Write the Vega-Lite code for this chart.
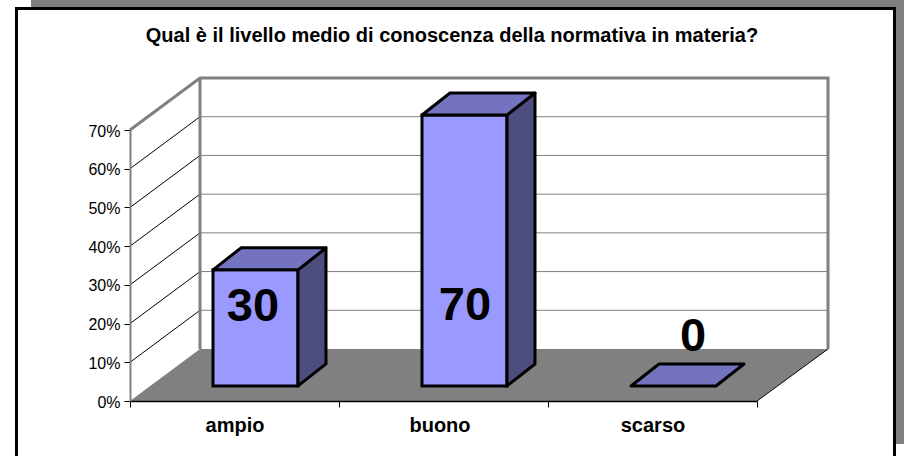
{
"$schema":"https://vega.github.io/schema/vega-lite/v6.json",
"width":627,"height":271,"autosize":{"type":"none"},
"padding":{"left":130,"top":130,"right":147,"bottom":55},
"background":"#ffffff",
"config":{"view":{"stroke":null},"font":"Liberation Sans"},
"datasets":{
"bars":[{"cat":"ampio","value":30},{"cat":"buono","value":70},{"cat":"scarso","value":0}],
"levels":[{"level":10},{"level":20},{"level":30},{"level":40},{"level":50},{"level":60}],
"origin":[{"at":0}],
"heading":[{"label":"Qual è il livello medio di conoscenza della normativa in materia?","cat":"buono","at":94.3}]
},
"encoding":{
"x":{"field":"cat","type":"nominal","sort":null,"title":null,"scale":{"domain":["ampio","buono","scarso"],"paddingInner":0,"paddingOuter":0},"axis":{"labelAngle":0,"labelFont":"Liberation Sans","labelFontSize":20,"labelFontWeight":"bold","labelColor":"#000000","tickColor":"#000000","tickSize":6,"tickBand":"extent","domainColor":"#000000","domainWidth":1.5,"labelPadding":8,"labelOffset":{"condition":{"test":"datum.value==='buono'","value":-4},"value":0},"zindex":1,"grid":false,"title":null}},
"y":{"field":"value","type":"quantitative","title":null,"scale":{"domain":[0,70],"nice":false},"axis":{"values":[0,10,20,30,40,50,60,70],"labelExpr":"datum.value+'%'","labelFont":"Liberation Sans","labelFontSize":16,"labelColor":"#000000","tickColor":"#000000","tickSize":6,"domainColor":"#808080","domainWidth":2,"labelPadding":4,"labelOffset":1,"zindex":1,"grid":false,"title":null}}
},
"layer":[
{"data":{"name":"origin"},"mark":{"type":"point","size":4,"opacity":1,"filled":true,"fill":"#808080","strokeWidth":0,"xOffset":-104.5,"shape":"M-99,-401L774,-401L774,43L766,43L766,-394L-99,-394Z"},"encoding":{"x":{"datum":"ampio","type":"nominal"},"y":{"field":"at","type":"quantitative"}}},
{"data":{"name":"origin"},"mark":{"type":"point","size":4,"opacity":1,"filled":false,"stroke":"#000000","strokeWidth":3,"xOffset":-104.5,"shape":"M-113.5,-392.5L764.5,-392.5L764.5,69L-113.5,69Z"},"encoding":{"x":{"datum":"ampio","type":"nominal"},"y":{"field":"at","type":"quantitative"}}},
{"data":{"name":"origin"},"mark":{"type":"point","size":4,"opacity":1,"filled":true,"fill":"#808080","strokeWidth":0,"xOffset":-104.5,"shape":"M0,0L70,-52L698,-52L627,0Z"},"encoding":{"x":{"datum":"ampio","type":"nominal"},"y":{"field":"at","type":"quantitative"}}},
{"data":{"name":"origin"},"mark":{"type":"point","size":4,"opacity":1,"filled":false,"stroke":"#000000","strokeWidth":1,"xOffset":-104.5,"shape":"M627,0L698,-52"},"encoding":{"x":{"datum":"ampio","type":"nominal"},"y":{"field":"at","type":"quantitative"}}},
{"data":{"name":"levels"},"mark":{"type":"point","size":4,"opacity":1,"filled":false,"stroke":"#808080","strokeWidth":1,"xOffset":-104.5,"shape":"M70,-52L698,-52"},"encoding":{"x":{"datum":"ampio","type":"nominal"},"y":{"field":"level","type":"quantitative"}}},
{"data":{"name":"levels"},"mark":{"type":"point","size":4,"opacity":1,"filled":false,"stroke":"#000000","strokeWidth":1,"xOffset":-104.5,"shape":"M0,0L70,-52"},"encoding":{"x":{"datum":"ampio","type":"nominal"},"y":{"field":"level","type":"quantitative"}}},
{"data":{"name":"origin"},"mark":{"type":"point","size":4,"opacity":1,"filled":false,"stroke":"#808080","strokeWidth":3,"xOffset":-104.5,"shape":"M0,-271L70,-323L698,-323L698,-52M70,-323L70,-52"},"encoding":{"x":{"datum":"ampio","type":"nominal"},"y":{"field":"at","type":"quantitative"}}},
{"data":{"name":"heading"},"mark":{"type":"text","font":"Liberation Sans","fontSize":20,"fontWeight":"bold","color":"#000000","xOffset":8.5,"baseline":"middle"},"encoding":{"y":{"field":"at","type":"quantitative"},"text":{"field":"label","type":"nominal"}}},
{"data":{"name":"bars"},"transform":[{"filter":"datum.value>0"}],"mark":{"type":"bar","size":85,"fill":"#9999ff","stroke":"#000000","strokeWidth":3,"xOffset":21,"yOffset":-15,"y2Offset":-15}},
{"data":{"name":"bars"},"transform":[{"filter":"datum.value>0"}],"mark":{"type":"point","size":4,"opacity":1,"filled":true,"fill":"#4d4d80","stroke":"#000000","strokeWidth":3,"strokeJoin":"round","xOffset":21,"yOffset":-15},"encoding":{"shape":{"field":"cat","type":"nominal","legend":null,"scale":{"domain":["ampio","buono"],"range":["M42.5,0L70.5,-22L70.5,94L42.5,116Z","M42.5,0L70.5,-22L70.5,249L42.5,271Z"]}}}},
{"data":{"name":"bars"},"mark":{"type":"point","size":4,"opacity":1,"filled":true,"fill":"#7373bf","stroke":"#000000","strokeWidth":3,"strokeJoin":"round","xOffset":21,"yOffset":-15,"shape":"M-42.5,0L-14.5,-22L70.5,-22L42.5,0Z"}},
{"data":{"name":"bars"},"transform":[{"filter":"datum.value==30"}],"mark":{"type":"text","font":"Liberation Sans","fontSize":47,"fontWeight":"bold","color":"#000000","xOffset":18.5},"encoding":{"text":{"field":"value","type":"quantitative"},"y":{"datum":24.3,"type":"quantitative"}}},
{"data":{"name":"bars"},"transform":[{"filter":"datum.value==70"}],"mark":{"type":"text","font":"Liberation Sans","fontSize":47,"fontWeight":"bold","color":"#000000","xOffset":21.5},"encoding":{"text":{"field":"value","type":"quantitative"},"y":{"datum":24.6,"type":"quantitative"}}},
{"data":{"name":"bars"},"transform":[{"filter":"datum.value==0"}],"mark":{"type":"text","font":"Liberation Sans","fontSize":47,"fontWeight":"bold","color":"#000000","xOffset":40.5},"encoding":{"text":{"field":"value","type":"quantitative"},"y":{"datum":16.6,"type":"quantitative"}}}
]
}
